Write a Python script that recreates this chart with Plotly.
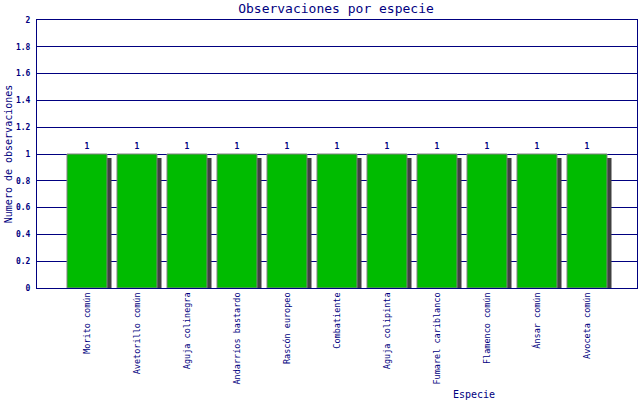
import plotly.graph_objects as go

especies = ["Morito común", "Avetorillo común", "Aguja colinegra", "Andarríos bastardo",
            "Rascón europeo", "Combatiente", "Aguja colipinta", "Fumarel cariblanco",
            "Flamenco común", "Ánsar común", "Avoceta común"]
observaciones = [1, 1, 1, 1, 1, 1, 1, 1, 1, 1, 1]
y_ticks = [0, 0.2, 0.4, 0.6, 0.8, 1, 1.2, 1.4, 1.6, 1.8, 2]

NAVY = "#000080"
FONT = "DejaVu Sans Mono"

fig = go.Figure()
# shadow
fig.add_trace(go.Bar(
    x=list(range(len(especies))), y=[v - 0.03 for v in observaciones],
    width=0.8, offset=-0.31, marker=dict(color="#404040", line=dict(width=0)),
    hoverinfo="skip", showlegend=False))
# main bars
fig.add_trace(go.Bar(
    x=list(range(len(especies))), y=observaciones,
    width=0.8, offset=-0.4,
    marker=dict(color="#00BB00", line=dict(color="#808080", width=1)),
    text=[str(v) for v in observaciones], textposition="outside",
    textfont=dict(family=FONT, size=8, color=NAVY, weight="bold"), cliponaxis=False,
    showlegend=False))

fig.update_layout(
    width=640, height=400, barmode="overlay",
    margin=dict(l=37, r=3, t=20, b=112),
    paper_bgcolor="white", plot_bgcolor="white",
    font=dict(family=FONT, color=NAVY, size=8),
    title=dict(text="Observaciones por especie", x=0.525, xanchor="center",
               y=0.978, yanchor="middle", font=dict(family=FONT, size=13, color=NAVY)),
    xaxis=dict(range=[-1, 11], tickmode="array", tickvals=list(range(len(especies))),
               ticktext=especies, tickangle=-90, showgrid=False, zeroline=False,
               showline=True, linecolor=NAVY, linewidth=1, mirror=True,
               ticks="", tickfont=dict(family=FONT, size=8.5, color=NAVY)),
    yaxis=dict(range=[0, 2], tickmode="array", tickvals=y_ticks,
               ticktext=[f"{t:g}" for t in y_ticks],
               showgrid=True, gridcolor=NAVY, gridwidth=1, zeroline=False,
               showline=True, linecolor=NAVY, linewidth=1, mirror=True,
               ticks="", ticklabelstandoff=4,
               tickfont=dict(family=FONT, size=8, color=NAVY, weight="bold")),
    annotations=[
        dict(text="Especie", xref="paper", yref="paper", x=0.728, y=-0.396,
             xanchor="center", yanchor="middle", showarrow=False,
             font=dict(family=FONT, size=10, color=NAVY)),
        dict(text="Numero de observaciones", xref="paper", yref="paper", x=-0.048, y=0.5,
             xanchor="center", yanchor="middle", showarrow=False, textangle=-90,
             font=dict(family=FONT, size=10, color=NAVY)),
    ],
)

fig.write_html("out.html", config={"displayModeBar": False},
               post_script="document.body.style.margin='0';document.body.style.overflow='hidden';")
